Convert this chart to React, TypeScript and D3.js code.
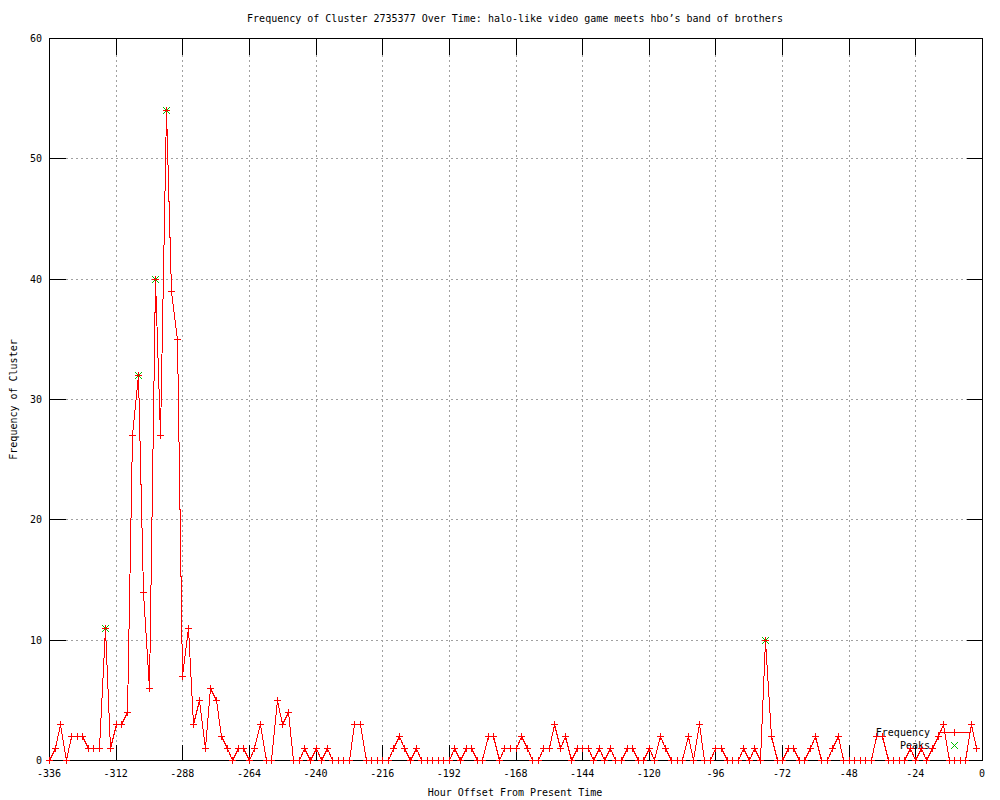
import React, { useEffect, useRef } from 'react';
import * as d3 from 'd3';

// hourly offsets, sampled every 2 hours from -336 up to -2
const HOURS: number[] = d3.range(-336, 0, 2);
const FREQ: number[] = [
  0, 1, 3, 0, 2, 2, 2, 1, 1, 1, 11, 1, 3, 3, 4, 27, 32, 14, 6, 40,
  27, 54, 39, 35, 7, 11, 3, 5, 1, 6, 5, 2, 1, 0, 1, 1, 0, 1, 3, 0,
  0, 5, 3, 4, 0, 0, 1, 0, 1, 0, 1, 0, 0, 0, 0, 3, 3, 0, 0, 0,
  0, 0, 1, 2, 1, 0, 1, 0, 0, 0, 0, 0, 0, 1, 0, 1, 1, 0, 0, 2,
  2, 0, 1, 1, 1, 2, 1, 0, 0, 1, 1, 3, 1, 2, 0, 1, 1, 1, 0, 1,
  0, 1, 0, 0, 1, 1, 0, 0, 1, 0, 2, 1, 0, 0, 0, 2, 0, 3, 0, 0,
  1, 1, 0, 0, 0, 1, 0, 1, 0, 10, 2, 0, 0, 1, 1, 0, 0, 1, 2, 0,
  0, 1, 2, 0, 0, 0, 0, 0, 0, 2, 2, 0, 0, 0, 0, 1, 0, 1, 0, 1,
  2, 3, 0, 0, 0, 0, 3, 1
];
const PEAK_HOURS = [-316, -304, -298, -294, -78];
const PEAK_VALUES = [11, 32, 40, 54, 10];
const X_TICKS = d3.range(-336, 1, 24);
const Y_TICKS = [0, 10, 20, 30, 40, 50, 60];

const TITLE = "Frequency of Cluster 2735377 Over Time: halo-like video game meets hbo\u2019s band of brothers";
const FONT = "'DejaVu Sans Mono', 'Liberation Mono', monospace";

export default function App() {
  const svgRef = useRef<SVGSVGElement>(null);
  const W = 1000, H = 800;
  const MARGIN = { top: 38, right: 18, bottom: 40, left: 49 };

  useEffect(() => {
    const svg = d3.select(svgRef.current);
    svg.selectAll("*").remove();

    const x = d3.scaleLinear().domain([-336, 0]).range([MARGIN.left, W - MARGIN.right]);
    const y = d3.scaleLinear().domain([0, 60]).range([H - MARGIN.bottom, MARGIN.top]);
    const px = (v: number) => Math.round(v) + 0.5;
    const x0 = px(x(-336)), x1 = px(x(0)), y0 = px(y(0)), y1 = px(y(60));
    const TIC = 16;

    svg.append("rect").attr("width", W).attr("height", H).attr("fill", "#fff");

    // grid
    const grid = svg.append("g")
      .attr("stroke", "#a0a0a0")
      .attr("stroke-dasharray", "2,3")
      .attr("shape-rendering", "crispEdges");
    X_TICKS.slice(1, -1).forEach(t => {
      grid.append("line").attr("x1", px(x(t))).attr("x2", px(x(t)))
        .attr("y1", y1 + TIC).attr("y2", y0 - TIC);
    });
    Y_TICKS.slice(1, -1).forEach(t => {
      grid.append("line").attr("x1", x0 + TIC).attr("x2", x1 - TIC)
        .attr("y1", px(y(t))).attr("y2", px(y(t)));
    });

    // ticks (mirrored, inward)
    const ticks = svg.append("g").attr("stroke", "#000").attr("shape-rendering", "crispEdges");
    X_TICKS.forEach(t => {
      ticks.append("line").attr("x1", px(x(t))).attr("x2", px(x(t))).attr("y1", y0).attr("y2", y0 - TIC);
      ticks.append("line").attr("x1", px(x(t))).attr("x2", px(x(t))).attr("y1", y1).attr("y2", y1 + TIC);
    });
    Y_TICKS.forEach(t => {
      ticks.append("line").attr("x1", x0).attr("x2", x0 + TIC).attr("y1", px(y(t))).attr("y2", px(y(t)));
      ticks.append("line").attr("x1", x1).attr("x2", x1 - TIC).attr("y1", px(y(t))).attr("y2", px(y(t)));
    });

    // border
    svg.append("rect")
      .attr("x", x0).attr("y", y1)
      .attr("width", x1 - x0).attr("height", y0 - y1)
      .attr("fill", "none").attr("stroke", "#000")
      .attr("shape-rendering", "crispEdges");

    // tick labels
    const txt = (sel: any) => sel.style("font-family", FONT).style("font-size", "10px").attr("fill", "#000");
    X_TICKS.forEach(t => {
      txt(svg.append("text")).attr("x", x(t)).attr("y", y0 + 13)
        .attr("dominant-baseline", "middle").attr("text-anchor", "middle").text(t);
    });
    Y_TICKS.forEach(t => {
      txt(svg.append("text")).attr("x", MARGIN.left - 7).attr("y", y(t) + 1)
        .attr("dominant-baseline", "middle").attr("text-anchor", "end").text(t);
    });

    // titles
    txt(svg.append("text")).attr("x", 515).attr("y", 19)
      .attr("dominant-baseline", "middle").attr("text-anchor", "middle").text(TITLE);
    txt(svg.append("text")).attr("x", 515).attr("y", 793)
      .attr("dominant-baseline", "middle").attr("text-anchor", "middle").text("Hour Offset From Present Time");
    txt(svg.append("text")).attr("transform", `translate(14,${(y0 + y1) / 2}) rotate(-90)`)
      .attr("dominant-baseline", "middle").attr("text-anchor", "middle").text("Frequency of Cluster");

    const plus = (g: any, cx: number, cy: number, color: string) => {
      g.append("path")
        .attr("d", `M${cx - 3.5},${cy}H${cx + 3.5}M${cx},${cy - 3.5}V${cy + 3.5}`)
        .attr("stroke", color).attr("fill", "none").attr("shape-rendering", "crispEdges");
    };
    const cross = (g: any, cx: number, cy: number, color: string) => {
      g.append("path")
        .attr("d", `M${cx - 3.5},${cy - 3.5}L${cx + 3.5},${cy + 3.5}M${cx - 3.5},${cy + 3.5}L${cx + 3.5},${cy - 3.5}`)
        .attr("stroke", color).attr("fill", "none").attr("shape-rendering", "crispEdges");
    };

    // legend
    const LX = 930, LY1 = 733, LY2 = 746;
    txt(svg.append("text")).attr("x", LX).attr("y", LY1)
      .attr("dominant-baseline", "middle").attr("text-anchor", "end").text("Frequency");
    txt(svg.append("text")).attr("x", LX).attr("y", LY2)
      .attr("dominant-baseline", "middle").attr("text-anchor", "end").text("Peaks");
    svg.append("line").attr("x1", 938).attr("x2", 970).attr("y1", LY1 - 0.5).attr("y2", LY1 - 0.5)
      .attr("stroke", "#ff0000").attr("shape-rendering", "crispEdges");
    plus(svg, 954.5, LY1 - 0.5, "#ff0000");
    cross(svg, 954.5, LY2 - 0.5, "#00c000");

    // peaks underneath
    const pk = svg.append("g");
    PEAK_HOURS.forEach((h, i) => cross(pk, px(x(h)), px(y(PEAK_VALUES[i])), "#00c000"));

    // frequency line
    const pts: [number, number][] = HOURS.map((h, i) => [px(x(h)), px(y(FREQ[i]))]);
    svg.append("path")
      .attr("d", d3.line()(pts))
      .attr("fill", "none").attr("stroke", "#ff0000").attr("stroke-width", 1)
      .attr("shape-rendering", "crispEdges");
    const mk = svg.append("g");
    pts.forEach(([cx, cy]) => plus(mk, cx, cy, "#ff0000"));
  }, []);

  return (
    <svg ref={svgRef} width={W} height={H}
      style={{ position: 'absolute', left: 0, top: 0, display: 'block' }} />
  );
}
